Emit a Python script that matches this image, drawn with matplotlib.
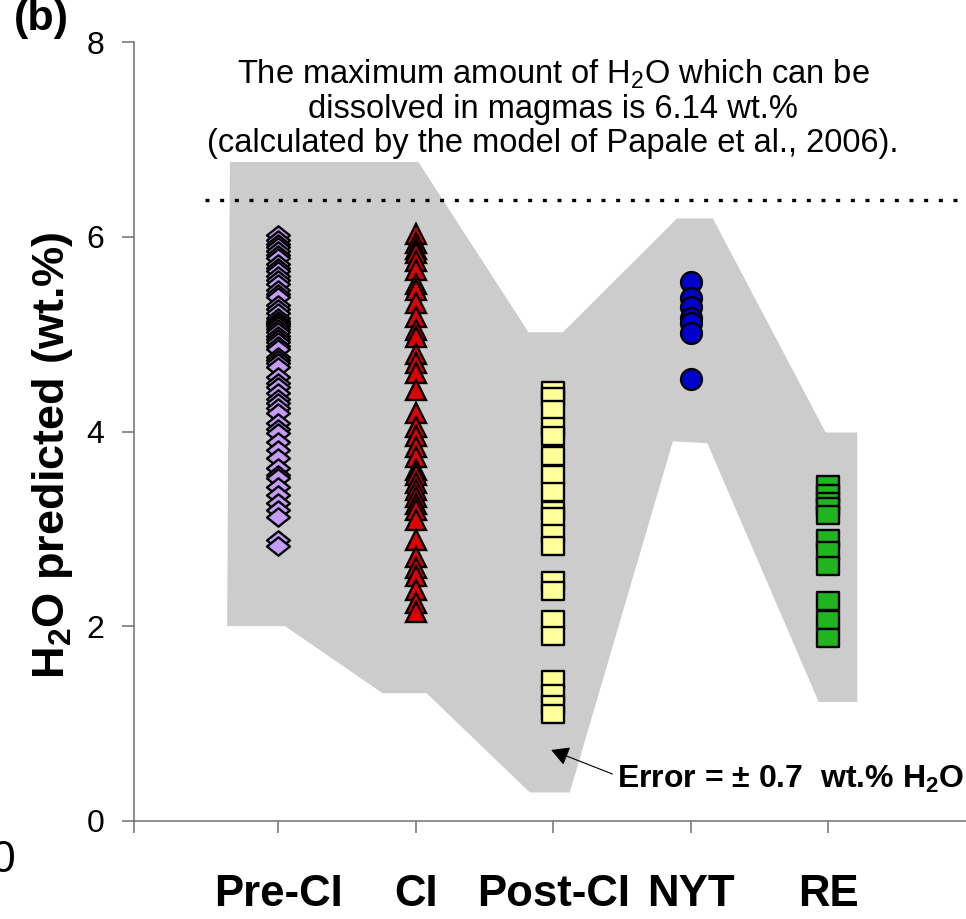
import numpy as np
import matplotlib
matplotlib.use("Agg")
import matplotlib.pyplot as plt
from matplotlib.path import Path

plt.rcParams['font.family'] = ['Liberation Sans', 'DejaVu Sans']
plt.rcParams['mathtext.fontset'] = 'custom'
plt.rcParams['mathtext.rm'] = 'Liberation Sans'
plt.rcParams['mathtext.it'] = 'Liberation Sans:italic'
plt.rcParams['mathtext.bf'] = 'Liberation Sans:bold'

# categories and predicted H2O values (wt.%)
categories = ['Pre-CI', 'CI', 'Post-CI', 'NYT', 'RE']

pre_ci = [6.02, 5.97, 5.93, 5.90, 5.85, 5.81, 5.78, 5.72, 5.68, 5.65, 5.60, 5.56,
          5.52, 5.45, 5.41, 5.38, 5.30, 5.26, 5.22, 5.17, 5.14, 5.12, 5.10, 5.08,
          5.05, 5.02, 4.98, 4.95, 4.92, 4.88, 4.85, 4.77, 4.73, 4.70, 4.66, 4.56,
          4.50, 4.46, 4.40, 4.33, 4.29, 4.24, 4.19, 4.09, 4.03, 3.98, 3.89, 3.81,
          3.73, 3.62, 3.55, 3.52, 3.43, 3.35, 3.27, 3.19, 3.12, 2.88, 2.82]
ci = [6.03, 5.94, 5.88, 5.83, 5.75, 5.66, 5.52, 5.45, 5.32, 5.18, 5.04, 4.97, 4.80,
      4.70, 4.60, 4.43, 4.19, 4.05, 3.95, 3.84, 3.74, 3.60, 3.55, 3.47, 3.40, 3.33,
      3.25, 3.19, 3.09, 2.88, 2.71, 2.60, 2.51, 2.37, 2.24, 2.14]
post_ci = [4.42, 4.35, 4.22, 4.05, 3.95, 3.75, 3.55, 3.38, 3.18, 3.12, 2.95, 2.82,
           2.46, 2.36, 2.06, 1.90, 1.45, 1.30, 1.19, 1.10]
nyt = [5.54, 5.37, 5.28, 5.17, 5.11, 5.01, 4.54]
re = [3.45, 3.36, 3.28, 3.22, 3.14, 2.90, 2.77, 2.62, 2.26, 2.06, 1.88]

# error envelope (+/- 0.7 wt.%)
env_x = [0.63, 0.65, 2.02, 2.82, 3.07, 3.90, 4.16, 4.98, 5.21, 5.21, 4.93, 4.12,
         3.87, 3.12, 2.83, 2.08, 1.76, 1.05]
env_y = [2.00, 6.77, 6.77, 5.02, 5.02, 6.19, 6.19, 3.99, 3.99, 1.22, 1.22, 3.88,
         3.90, 0.29, 0.29, 1.31, 1.31, 2.00]

max_h2o_line = 6.38

diamond = Path([(-1, 0), (0, 0.8), (1, 0), (0, -0.8), (-1, 0)],
               [Path.MOVETO, Path.LINETO, Path.LINETO, Path.LINETO, Path.CLOSEPOLY])
rect = Path([(-1, -0.8), (1, -0.8), (1, 0.8), (-1, 0.8), (-1, -0.8)],
            [Path.MOVETO, Path.LINETO, Path.LINETO, Path.LINETO, Path.CLOSEPOLY])

fig = plt.figure(figsize=(9.66, 9.19), dpi=100)
ax = fig.add_axes([134 / 966, 1 - 820.7 / 919, 1 - 134 / 966, (820.7 - 42.3) / 919])

ax.fill(env_x, env_y, color='#CCCCCC', lw=0, zorder=0)
ax.axhline(max_h2o_line, xmin=0.085, xmax=1, color='black', lw=2.4,
           linestyle=(0, (1.2, 3.2)), zorder=1)

series = [
    (pre_ci, diamond, '#C49CF8', 16.5),
    (ci, '^', '#E00000', 15),
    (post_ci, rect, '#FFFF99', 16),
    (nyt, 'o', '#0000CC', 15),
    (re, rect, '#22B41E', 16),
]
for i, (vals, mk, col, ms) in enumerate(series):
    ax.plot(np.full(len(vals), i + 1), vals, linestyle='none', marker=mk,
            markersize=ms, markerfacecolor=col, markeredgecolor='black',
            markeredgewidth=1.7, zorder=3, clip_on=False)

ax.set_xlim(-0.047, 6.0)
ax.set_ylim(0, 8)
ax.set_yticks([0, 2, 4, 6, 8])
ax.set_xticks(range(1, 6))
ax.set_xticklabels(categories, fontsize=31.5, fontweight='bold')
ax.set_xticks([-0.047], minor=True)
ax.tick_params(axis='y', labelsize=23, length=8.6, width=1.1, color='#707070', pad=13)
ax.tick_params(axis='x', which='both', length=8.6, width=1.1, color='#707070', pad=30)

for s in ['top', 'right']:
    ax.spines[s].set_visible(False)
for s in ['left', 'bottom']:
    ax.spines[s].set_color('#707070')
    ax.spines[s].set_linewidth(1.1)

fig.text(53 / 966, 1 - 455 / 919, r'H$_\mathbf{2}$O predicted (wt.%)', rotation=90,
         ha='center', va='center', fontsize=32.5, fontweight='bold')

ax.text(3.0, 7.32,
        'The maximum amount of H$_2$O which can be\n'
        'dissolved in magmas is 6.14 wt.%\n'
        '(calculated by the model of Papale et al., 2006).',
        ha='center', va='center', fontsize=23.5, linespacing=1.12)

ax.annotate('', xy=(2.985, 0.727), xytext=(3.43, 0.48),
            arrowprops=dict(arrowstyle='-|>,head_length=0.4,head_width=0.22',
                            color='black', lw=0.8, mutation_scale=27,
                            shrinkA=0, shrinkB=0), zorder=4)
fig.text(617 / 966, 1 - 788 / 919, r'Error = ± 0.7  wt.% H$_\mathbf{2}$O',
         ha='left', va='baseline', fontsize=23, fontweight='bold')

fig.text(14 / 966, 1 - 30 / 919, '(b)', ha='left', va='baseline',
         fontsize=31, fontweight='bold')
fig.text(15 / 966, 1 - 861 / 919, '0', ha='right', va='center', fontsize=32)

fig.savefig('out.png', dpi=100)
